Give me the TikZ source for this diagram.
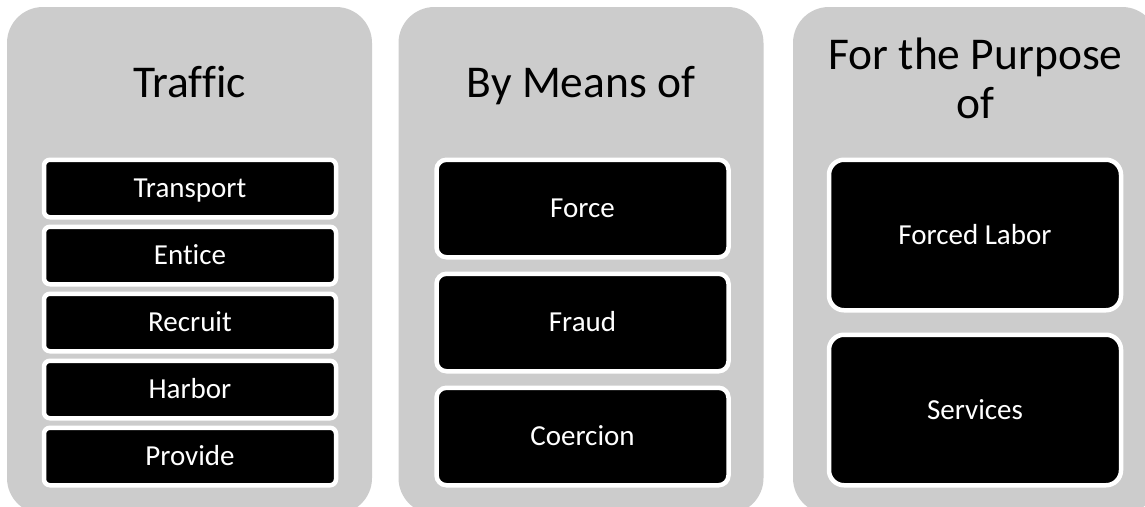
\documentclass[tikz,border=0pt]{standalone}
\usepackage{fontspec}
\setmainfont[Ligatures={NoCommon}]{Carlito}
\definecolor{panelgray}{RGB}{204,204,204}
\begin{document}
\begin{tikzpicture}[x=1pt,y=-1pt,
  panel/.style={fill=panelgray, rounded corners=36pt, minimum width=365pt, minimum height=507pt, inner sep=0pt, outer sep=0pt},
  item/.style={fill=black, draw=white, line width=4.5pt, text=white, minimum width=292pt, inner sep=0pt, outer sep=0pt,
    text height=18.4pt, text depth=0pt, font=\fontsize{29}{32}\selectfont},
  small/.style={item, minimum height=57.5pt, rounded corners=6pt},
  mid/.style={item, minimum height=97.5pt, rounded corners=10pt},
  large/.style={item, minimum height=150.5pt, rounded corners=15pt},
  title/.style={font=\fontsize{45.5}{48.5}\selectfont, align=center, anchor=base, inner sep=0pt}]
\useasboundingbox (0,0) rectangle (1145,506);
\clip (0,0) rectangle (1145,506);
\fill[white] (0,0) rectangle (1145,506);
% panels
\node[panel] (p1) at (189.5,260.5) {};
\node[panel] (p2) at (581,260.5) {};
\node[panel] (p3) at (975.5,260.5) {};
% titles
\node[title] (t1) at (189.5,97) {Traffic};
\node[title] (t2) at (581,97) {By Means of};
\node[title] (t3) at (975.5,118) {For the Purpose\\of};
% panel 1 items
\node[small] (a1) at (190,188.5) {Transport};
\node[small] (a2) at (190,255.5) {Entice};
\node[small] (a3) at (190,322.5) {Recruit};
\node[small] (a4) at (190,389.5) {Harbor};
\node[small] (a5) at (190,456.5) {Provide};
% panel 2 items
\node[mid] (b1) at (582.5,208.5) {Force};
\node[mid] (b2) at (582.5,322.5) {Fraud};
\node[mid] (b3) at (582.5,436.5) {Coercion};
% panel 3 items
\node[large] (c1) at (975,235) {Forced Labor};
\node[large] (c2) at (975,410) {Services};
\end{tikzpicture}
\end{document}
